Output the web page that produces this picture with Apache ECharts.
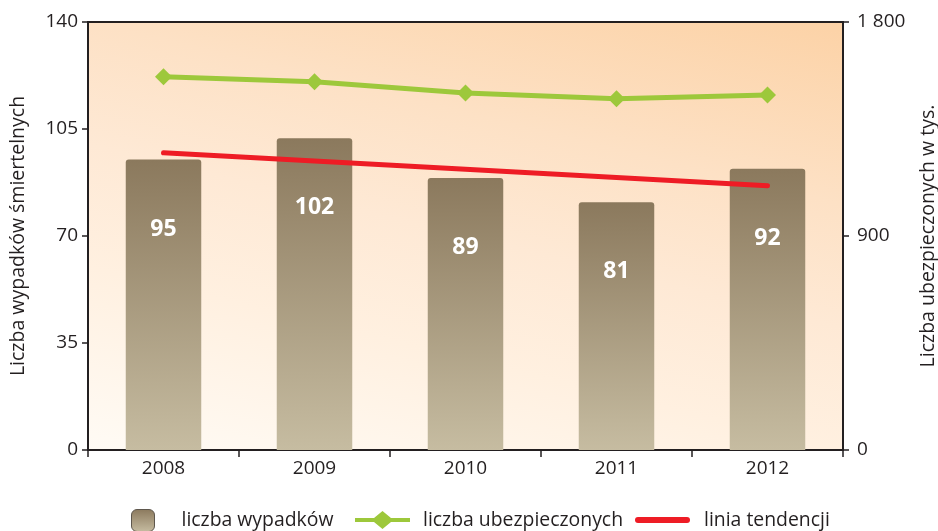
<!DOCTYPE html>
<html>
<head>
  <meta charset="utf-8">
  <title>Liczba wypadków</title>
  <script src="https://cdn.jsdelivr.net/npm/echarts@6/dist/echarts.min.js"></script>
  <style>
    html, body { margin: 0; padding: 0; background: #fff; }
    #chart { width: 938px; height: 531px; }
  </style>
</head>
<body>
  <div id="chart"></div>
  <script>
    // dane
    var years = ['2008', '2009', '2010', '2011', '2012'];
    var accidents = [95, 102, 89, 81, 92];
    var insured = [1570, 1549, 1501, 1477, 1493];
    var trend = [97.2, 94.5, 91.8, 89.1, 86.4];
    var leftTicks = [0, 35, 70, 105, 140];
    var rightTicks = [0, 900, 1800];

    var font = 'Open Sans';
    var ink = '#231f20';

    var chart = echarts.init(document.getElementById('chart'));

    var legendText = function (pad) {
      return { fontSize: 19.4, color: ink, fontFamily: font, lineHeight: 22, padding: [0, 0, 0, pad] };
    };

    var option = {
      animation: false,
      textStyle: { fontFamily: font },
      grid: {
        left: 88, right: 95, top: 22, bottom: 81,
        outerBoundsMode: 'none',
        show: true,
        borderColor: ink,
        borderWidth: 2,
        // tlo: jasne w lewym dolnym rogu, pomaranczowe u gory
        backgroundColor: {
          type: 'linear', x: 0, y: 1, x2: 0.186, y2: -0.348,
          colorStops: [
            { offset: 0, color: '#fffbf5' },
            { offset: 0.3, color: '#fff0e0' },
            { offset: 0.5, color: '#fee9d5' },
            { offset: 0.7, color: '#fde1c5' },
            { offset: 1, color: '#fcd2a6' }
          ]
        }
      },
      legend: [
        {
          data: ['liczba wypadków'], left: 131, top: 509, padding: 0,
          icon: 'roundRect', itemWidth: 23, itemHeight: 22,
          itemStyle: { borderColor: '#5e574d', borderWidth: 1 },
          textStyle: legendText(22)
        },
        {
          data: [{
            name: 'liczba ubezpieczonych',
            icon: 'path://M0,7 L19,7 L27.5,0 L36,7 L55,7 L55,11 L36,11 L27.5,18 L19,11 L0,11 Z'
          }],
          left: 355, top: 509, padding: 0,
          itemWidth: 55, itemHeight: 18,
          textStyle: legendText(8)
        },
        {
          data: [{
            name: 'linia tendencji',
            icon: 'path://M3,0 L52,0 A3,3 0 0 1 52,6 L3,6 A3,3 0 0 1 3,0 Z'
          }],
          left: 635, top: 509, padding: 0,
          itemWidth: 55, itemHeight: 6,
          textStyle: legendText(9)
        }
      ],
      xAxis: {
        type: 'category',
        data: years,
        boundaryGap: true,
        axisLine: { lineStyle: { color: ink, width: 2 } },
        axisTick: { show: true, length: 7, lineStyle: { color: ink, width: 1.5 } },
        axisLabel: { fontSize: 19, color: ink, margin: 9, fontFamily: font }
      },
      yAxis: [
        {
          type: 'value', min: 0, max: 140, interval: 35,
          name: 'Liczba wypadków śmiertelnych',
          nameLocation: 'middle', nameGap: 60,
          nameTextStyle: { fontSize: 19.5, color: ink, fontFamily: font },
          axisLine: { show: true, lineStyle: { color: ink, width: 2 } },
          axisTick: { show: true, length: 6, lineStyle: { color: ink, width: 1.5 } },
          axisLabel: {
            fontSize: 19, color: ink, margin: 10, fontFamily: font,
            formatter: function (v) { return leftTicks.indexOf(v) >= 0 ? String(v) : ''; }
          },
          splitLine: { show: false }
        },
        {
          type: 'value', min: 0, max: 1800, interval: 900,
          name: 'Liczba ubezpieczonych w tys.',
          nameLocation: 'middle', nameGap: 75, nameRotate: 90,
          nameTextStyle: { fontSize: 19.5, color: ink, fontFamily: font },
          axisLine: { show: true, lineStyle: { color: ink, width: 2 } },
          axisTick: { show: true, length: 6, lineStyle: { color: ink, width: 1.5 } },
          axisLabel: {
            fontSize: 19, color: ink, margin: 14, fontFamily: font,
            formatter: function (v) {
              if (rightTicks.indexOf(v) < 0) return '';
              return String(v).replace(/\B(?=(\d{3})+(?!\d))/g, ' ');
            }
          },
          splitLine: { show: false }
        }
      ],
      series: [
        {
          name: 'liczba wypadków',
          type: 'bar',
          data: accidents,
          barWidth: '50%',
          itemStyle: {
            borderRadius: [3, 3, 0, 0],
            color: {
              type: 'linear', x: 0, y: 0, x2: 0, y2: 1,
              colorStops: [
                { offset: 0, color: '#8b795d' },
                { offset: 1, color: '#c6bca1' }
              ]
            }
          },
          label: {
            show: true, position: 'insideTop', distance: 58,
            color: '#fff', fontSize: 23, fontWeight: 'bold', fontFamily: font
          },
          z: 2
        },
        {
          name: 'liczba ubezpieczonych',
          type: 'line',
          yAxisIndex: 1,
          data: insured,
          symbol: 'diamond',
          symbolSize: 17,
          lineStyle: { color: '#9dc83b', width: 5 },
          itemStyle: { color: '#9dc83b' },
          z: 4
        },
        {
          name: 'linia tendencji',
          type: 'line',
          data: trend,
          symbol: 'none',
          lineStyle: { color: '#ee1c25', width: 5, cap: 'round' },
          itemStyle: { color: '#ee1c25' },
          z: 3
        }
      ]
    };

    chart.setOption(option);
  </script>
</body>
</html>
